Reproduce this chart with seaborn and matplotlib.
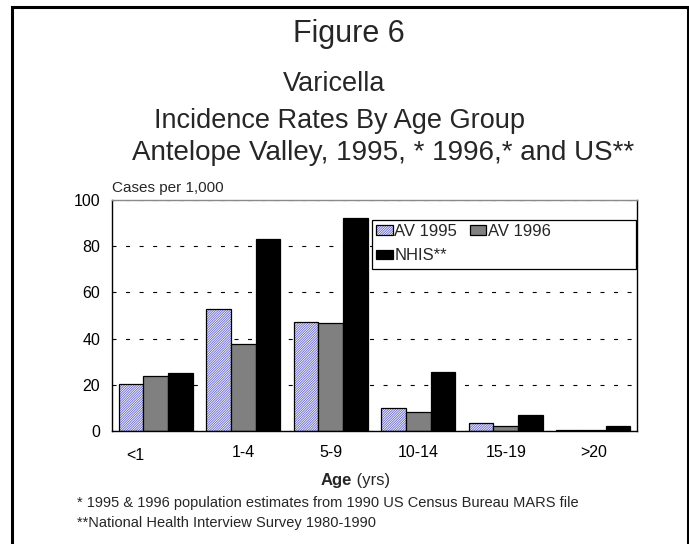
import numpy as np
import pandas as pd
import matplotlib
matplotlib.use("Agg")
import matplotlib.pyplot as plt
import matplotlib.colors as mcolors
import matplotlib.transforms as mtrans
from matplotlib.patches import Rectangle
import seaborn as sns

# data (cases per 1,000)
age_groups = ['<1', '1-4', '5-9', '10-14', '15-19', '>20']
series = ['AV 1995', 'AV 1996', 'NHIS**']
av_1995 = [20.2, 52.7, 47.0, 10.1, 3.5, 0.6]
av_1996 = [23.9, 37.8, 46.6, 8.4, 2.3, 0.4]
nhis = [25.1, 83.1, 92.1, 25.5, 6.9, 2.3]

df = pd.DataFrame({
    'age': age_groups * 3,
    'series': np.repeat(series, len(age_groups)),
    'rate': av_1995 + av_1996 + nhis,
})

sns.set_style('white')
plt.rcParams['font.family'] = ['Liberation Sans', 'DejaVu Sans']
plt.rcParams['hatch.linewidth'] = 0.65

fig = plt.figure(figsize=(6.89, 5.44), dpi=100)
ax = fig.add_axes([112/689, 1-431/544, 525/689, 231/544])

sns.barplot(data=df, x='age', y='rate', hue='series', order=age_groups,
            hue_order=series, palette=['white', '#808080', 'black'],
            width=0.85, edgecolor='black', linewidth=0.9, saturation=1,
            legend=False, ax=ax)

# dense blue hatching for the first series
for p in ax.containers[0]:
    p.set_hatch('/' * 14)
    p._hatch_color = mcolors.to_rgba('#6c6cd0')

ax.set_ylim(0, 100)
ax.set_yticks(range(0, 101, 20))
ax.set_xlabel('')
ax.set_ylabel('')
ax.tick_params(axis='both', length=0, labelsize=11.5, colors='black')
ax.tick_params(axis='y', pad=8.5)
ax.tick_params(axis='x', pad=10)

# first tick label sits off-centre in the original
lab0 = ax.get_xticklabels()[0]
lab0.set_transform(lab0.get_transform() +
                   mtrans.ScaledTranslation(-20/100, -3/100, fig.dpi_scale_trans))

ax.yaxis.grid(True, color='black', linestyle=(0, (3.6, 8.6)), linewidth=0.8)
ax.set_axisbelow(True)
for s in ['left', 'bottom', 'right']:
    ax.spines[s].set_color('black')
    ax.spines[s].set_linewidth(1.0)
ax.spines['top'].set_color('#8a8a8a')
ax.spines['top'].set_linewidth(1.0)

# legend box (wider than its entries, as in the original)
box = Rectangle((0.495, 0.701), 0.503, 0.212, transform=ax.transAxes,
                facecolor='white', edgecolor='black', linewidth=0.9, zorder=4)
ax.add_patch(box)
h = [ax.containers[0][0], ax.containers[2][0], ax.containers[1][0]]
leg = ax.legend(h, [series[0], series[2], series[1]], ncol=2,
                loc='upper left', bbox_to_anchor=(0.503, 0.896),
                frameon=False, fontsize=12, borderpad=0, borderaxespad=0,
                handlelength=1.0, handleheight=0.5, handletextpad=0.1,
                columnspacing=0.75, labelspacing=0.55)
leg.set_zorder(5)

# titles
fig.text(349/689, 1-42/544, 'Figure 6', ha='center', va='baseline', fontsize=22)
fig.text(334/689, 1-91/544, 'Varicella', ha='center', va='baseline', fontsize=19.5)
fig.text(154/689, 1-128/544, 'Incidence Rates By Age Group', ha='left',
         va='baseline', fontsize=19.5)
fig.text(132/689, 1-160/544, 'Antelope Valley, 1995, * 1996,* and US**',
         ha='left', va='baseline', fontsize=20)

fig.text(112/689, 1-192/544, 'Cases per 1,000', ha='left', va='baseline',
         fontsize=11)

age = fig.text(321/689, 1-485/544, 'Age', ha='left', va='baseline',
               fontsize=12, fontweight='bold')
ax.annotate(' (yrs)', xy=(1, 0), xycoords=age, va='bottom', fontsize=12)

fig.text(77/689, 1-507/544,
         '* 1995 & 1996 population estimates from 1990 US Census Bureau MARS file',
         ha='left', va='baseline', fontsize=10.5)
fig.text(77/689, 1-527/544, '**National Health Interview Survey 1980-1990',
         ha='left', va='baseline', fontsize=10.5)

# page frame
fig.patches.append(Rectangle((11.5/689, -0.02), (687.5-11.5)/689, 1.02-7.5/544,
                             transform=fig.transFigure, fill=False,
                             edgecolor='black', linewidth=2.2))

fig.savefig('out.png', dpi=100)
